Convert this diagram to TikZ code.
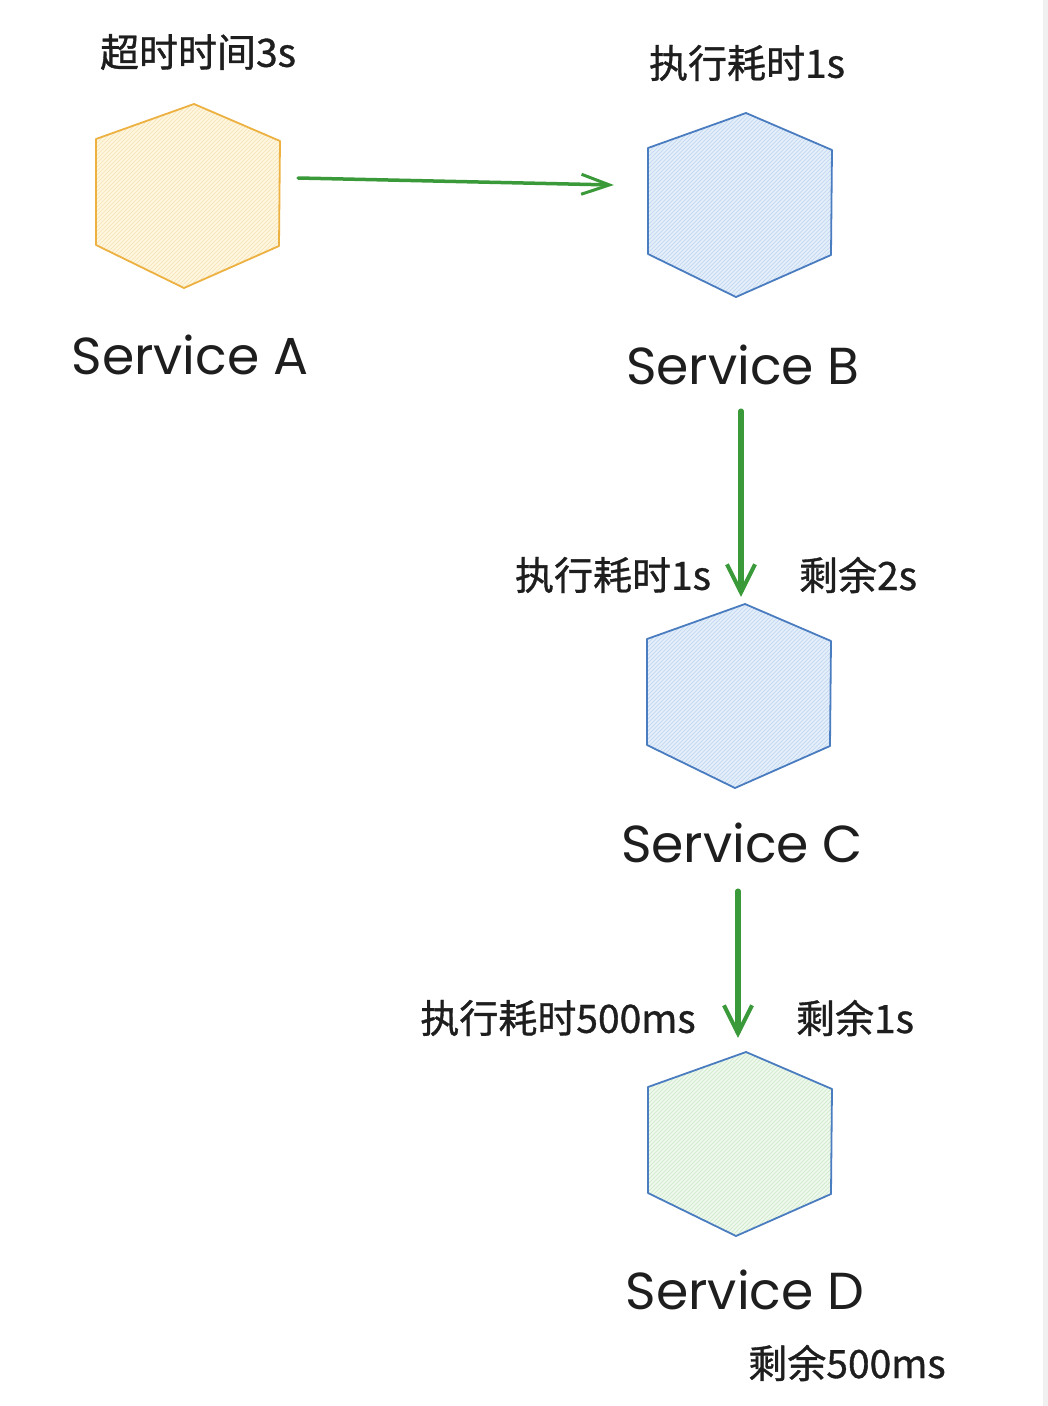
\documentclass[tikz,border=0pt]{standalone}
\usepackage{fontspec}
\newfontfamily\cjk[FakeBold=0.9]{Noto Sans CJK SC}
\newfontfamily\hand{Poppins}
\usetikzlibrary{arrows.meta}
\definecolor{ink}{HTML}{1E1E1E}
\definecolor{arrgreen}{HTML}{3A9A3A}
\definecolor{yelfill}{HTML}{FFF7E0}
\definecolor{yelhatch}{HTML}{F8E7BE}
\definecolor{yelstroke}{HTML}{EDB142}
\definecolor{bluefill}{HTML}{E6F0FB}
\definecolor{bluehatch}{HTML}{C6DAF2}
\definecolor{bluestroke}{HTML}{4A7CC0}
\definecolor{grnfill}{HTML}{F0F9EE}
\definecolor{grnhatch}{HTML}{D3ECD0}
\tikzset{
  cjklabel/.style={font=\cjk\fontsize{39}{44}\selectfont, text=ink, inner sep=0pt},
  svclabel/.style={font=\hand\fontsize{52}{58}\selectfont, text=ink, inner sep=0pt},
  hexbox/.style={minimum width=186pt, minimum height=184pt, inner sep=0pt},
  flow/.style={draw=arrgreen, line width=5.5pt, line cap=round,
    -{Straight Barb[length=28pt, width=28pt, line width=4pt]}},
  flowthin/.style={draw=arrgreen, line width=3.5pt, line cap=round,
    -{Straight Barb[length=28pt, width=20pt, line width=3pt]}}
}
\newcommand{\hexpath}{(6,-92) -- (92,-55) -- (91,50) -- (-4,92) -- (-92,49) -- (-92,-57) -- cycle}
\newcommand{\hexshape}[6]{%
  \node[hexbox] (#1) at (#2,#3) {};
  \begin{scope}[shift={(#2,#3)}]
    \fill[#4] \hexpath;
    \begin{scope}
      \clip \hexpath;
      \foreach \k in {-200,-196,...,200}
        \draw[#6, line width=0.8pt] (\k-110,110) -- (\k+110,-110);
    \end{scope}
    \draw[#5, line width=1.8pt, line join=round] \hexpath;
  \end{scope}}
\begin{document}
\begin{tikzpicture}[x=1pt,y=-1pt]
\useasboundingbox (0,0) rectangle (1048,1406);
\fill[white] (0,0) rectangle (1048,1406);
\fill[black!6] (1043,0) rectangle (1048,1406);

\hexshape{A}{188}{196}{yelfill}{yelstroke}{yelhatch}
\hexshape{B}{740}{205}{bluefill}{bluestroke}{bluehatch}
\hexshape{C}{739}{696}{bluefill}{bluestroke}{bluehatch}
\hexshape{D}{740}{1144}{grnfill}{bluestroke}{grnhatch}

\node[cjklabel] (tA) at (198,52) {超时时间3s};
\node[svclabel] (lA) at (190,355) {Service A};
\node[cjklabel] (tB) at (747,63) {执行耗时1s};
\node[svclabel] (lB) at (743,365) {Service B};
\node[cjklabel] (tC1) at (613,575) {执行耗时1s};
\node[cjklabel] (tC2) at (858,575) {剩余2s};
\node[svclabel] (lC) at (742,843) {Service C};
\node[cjklabel] (tD1) at (558,1018) {执行耗时500ms};
\node[cjklabel] (tD2) at (855,1018) {剩余1s};
\node[svclabel] (lD) at (745,1290) {Service D};
\node[cjklabel] (tE) at (847,1363) {剩余500ms};

\draw[flowthin] ([xshift=17pt,yshift=18pt]A.east) -- ([xshift=-33pt,yshift=20pt]B.west);
\draw[flow] ([xshift=-2pt,yshift=-26pt]lB.south) -- ([xshift=2pt,yshift=7pt]C.north);
\draw[flow] ([xshift=-4pt,yshift=-28pt]lC.south) -- ([xshift=-2pt,yshift=14pt]D.north);
\end{tikzpicture}
\end{document}
